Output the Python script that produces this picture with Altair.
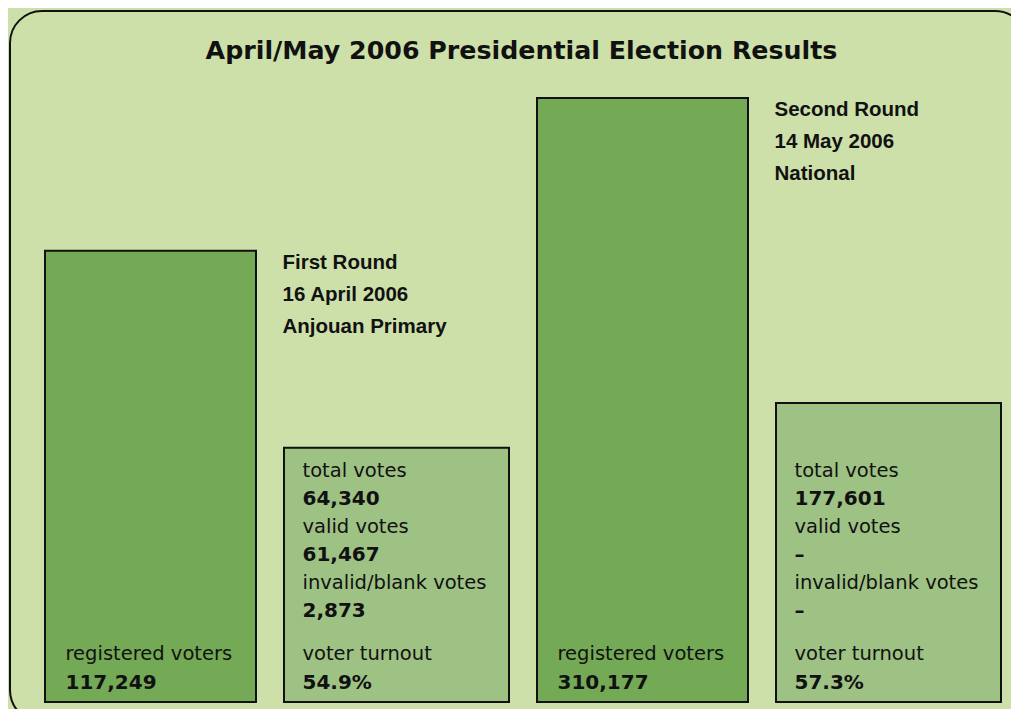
import altair as alt
import pandas as pd

# ---------------- data ----------------
rounds = ["First Round", "Second Round"]
dates = ["16 April 2006", "14 May 2006"]
scopes = ["Anjouan Primary", "National"]
registered_voters = [117249, 310177]
total_votes = [64340, 177601]
valid_votes = [61467, None]
invalid_votes = [2873, None]
turnout_pct = [54.9, 57.3]
# box heights as drawn in the infographic (not to scale), % of the tallest box
registered_box = [74.7, 100.0]
totals_box = [42.1, 49.5]

title_text = "April/May 2006 Presidential Election Results"

# ---------------- styling ----------------
BG = "#cde0a9"
REG_FILL = "#74aa56"
TOT_FILL = "#9ec184"
INK = "#111111"
REG_FONT = "DejaVu Sans"
NUM_FONT = "DejaVu Sans"
HEAD_FONT = "Liberation Sans"

W, H = 1003, 701

slots = ["r1_reg", "r1_tot", "r2_reg", "r2_tot"]
xscale = alt.Scale(domain=slots, range=[19.5, 1003.5], paddingInner=0, paddingOuter=0)
yscale = alt.Scale(domain=[0, 100], range=[694, 90], nice=False, zero=True)


def fmt(v):
    return "\u2013" if v is None else f"{v:,}"


# ---------------- tables ----------------
box_rows = []
text_rows = []
for i in range(2):
    reg_slot, tot_slot = slots[2 * i], slots[2 * i + 1]
    box_rows.append({"slot": reg_slot, "kind": "reg", "level": registered_box[i]})
    box_rows.append({"slot": tot_slot, "kind": "tot", "level": totals_box[i]})

    text_rows += [
        {"slot": reg_slot, "kind": "reg", "line": "b_lab", "text": "registered voters", "yval": 0},
        {"slot": reg_slot, "kind": "reg", "line": "b_val", "text": fmt(registered_voters[i]), "yval": 0},
        {"slot": tot_slot, "kind": "tot", "line": "u0", "text": "total votes", "yval": 0},
        {"slot": tot_slot, "kind": "tot", "line": "u1", "text": fmt(total_votes[i]), "yval": 0},
        {"slot": tot_slot, "kind": "tot", "line": "u2", "text": "valid votes", "yval": 0},
        {"slot": tot_slot, "kind": "tot", "line": "u3", "text": fmt(valid_votes[i]), "yval": 0},
        {"slot": tot_slot, "kind": "tot", "line": "u4", "text": "invalid/blank votes", "yval": 0},
        {"slot": tot_slot, "kind": "tot", "line": "u5", "text": fmt(invalid_votes[i]), "yval": 0},
        {"slot": tot_slot, "kind": "tot", "line": "b_lab", "text": "voter turnout", "yval": 0},
        {"slot": tot_slot, "kind": "tot", "line": "b_val", "text": f"{turnout_pct[i]}%", "yval": 0},
        {"slot": tot_slot, "kind": "head", "line": "h0", "text": rounds[i], "yval": registered_box[i]},
        {"slot": tot_slot, "kind": "head", "line": "h1", "text": dates[i], "yval": registered_box[i]},
        {"slot": tot_slot, "kind": "head", "line": "h2", "text": scopes[i], "yval": registered_box[i]},
    ]

box_df = pd.DataFrame(box_rows)
text_df = pd.DataFrame(text_rows)

# line layout: dy offset and text style
line_style = {
    "u0": (-225, "lab"), "u1": (-197, "val"),
    "u2": (-169, "lab"), "u3": (-141, "val"),
    "u4": (-113, "lab"), "u5": (-85, "val"),
    "b_lab": (-42, "lab"), "b_val": (-13, "val"),
    "h0": (18, "head"), "h1": (50, "head"), "h2": (82, "head"),
}
kind_dx = {"reg": -85, "tot": -94, "head": -114}
style_font = {
    "lab": dict(font=REG_FONT, fontSize=19.5, fontWeight="normal"),
    "val": dict(font=NUM_FONT, fontSize=20, fontWeight="bold"),
    "head": dict(font=HEAD_FONT, fontSize=20.5, fontWeight="bold"),
}

X = alt.X("slot:N", scale=xscale, axis=None, sort=slots)

layers = []

# frame (decoration)
frame = alt.Chart(pd.DataFrame({"a": [0]})).mark_rect(
    fillOpacity=0, stroke=INK, strokeWidth=2, cornerRadius=32
).encode(x=alt.value(2), x2=alt.value(1019), y=alt.value(3), y2=alt.value(714))
layers.append(frame)

# boxes
for kind, fill, width in [("reg", REG_FILL, 211), ("tot", TOT_FILL, 225)]:
    layers.append(
        alt.Chart(box_df[box_df.kind == kind]).mark_bar(
            width=width, fill=fill, stroke=INK, strokeWidth=2, cornerRadius=0
        ).encode(x=X, y=alt.Y("level:Q", scale=yscale, axis=None))
    )

# texts
for (kind, line), sub in text_df.groupby(["kind", "line"]):
    dy, style = line_style[line]
    layers.append(
        alt.Chart(sub).mark_text(
            align="left", baseline="alphabetic", dx=kind_dx[kind], dy=dy,
            color=INK, **style_font[style]
        ).encode(x=X, y=alt.Y("yval:Q", scale=yscale, axis=None), text="text:N")
    )

# title
layers.append(
    alt.Chart(pd.DataFrame({"t": [title_text]})).mark_text(
        align="center", baseline="alphabetic", font="DejaVu Sans", fontSize=25.3,
        fontWeight="bold", color=INK
    ).encode(x=alt.value(513.5), y=alt.value(51), text="t:N")
)

chart = alt.layer(*layers).properties(
    width=W, height=H, autosize=alt.AutoSizeParams(type="none"), padding=0
).configure(background=BG).configure_view(stroke=None)

chart.save("out.html", embed_options={"renderer": "svg", "actions": False})
